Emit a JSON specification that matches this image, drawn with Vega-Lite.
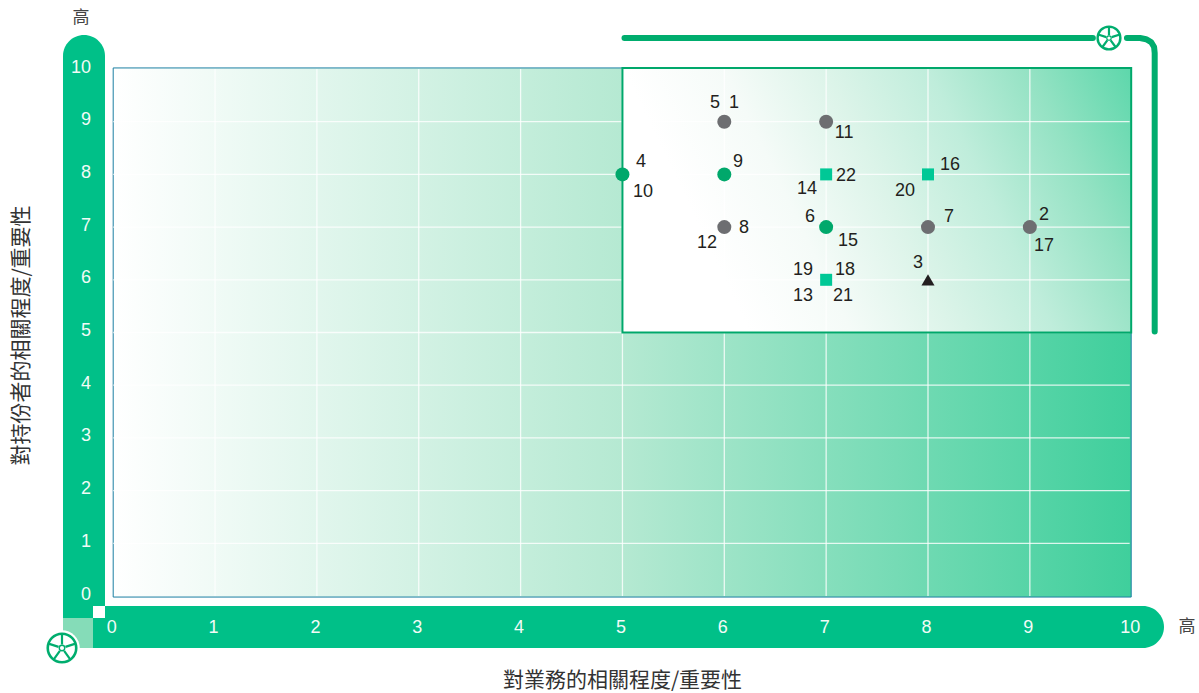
{
"$schema":"https://vega.github.io/schema/vega-lite/v6.json",
"width":1199,"height":693,"padding":0,"autosize":{"type":"none"},
"background":"white",
"view":{"stroke":null},
"config":{"text":{"font":"Liberation Sans"}},
"encoding":{
 "x":{"field":"x","type":"quantitative","scale":{"domain":[-1.1114,10.6608],"nice":false,"zero":false},
  "axis":{"values":[0,1,2,3,4,5,6,7,8,9,10],"format":"d","grid":false,"ticks":false,"tickSize":0,"domain":false,"labelPadding":-66,"labelBaseline":"middle","labelFont":"Liberation Sans","labelFontSize":18,"labelColor":"#f2fbf7","labelOffset":-2,"labelBound":false,"labelFlush":false,"labelOverlap":false,"zindex":1,
   "title":"對業務的相關程度/重要性","titleFont":"Noto Sans CJK TC","titleFontSize":21,"titleFontWeight":"normal","titleColor":"#333333","titleX":622,"titleY":-13,"titleBaseline":"middle","titleAlign":"center"}},
 "y":{"field":"y","type":"quantitative","scale":{"domain":[-1.8406,11.3093],"nice":false,"zero":false},
  "axis":{"values":[0,1,2,3,4,5,6,7,8,9,10],"format":"d","grid":false,"ticks":false,"tickSize":0,"domain":false,"labelPadding":-90.5,"labelAlign":"right","labelBaseline":"middle","labelFont":"Liberation Sans","labelFontSize":18,"labelColor":"#f2fbf7","labelOffset":-2,"labelBound":false,"labelFlush":false,"labelOverlap":false,"zindex":1,
   "title":"對持份者的相關程度/重要性","titleFont":"Noto Sans CJK TC","titleFontSize":21,"titleFontWeight":"normal","titleColor":"#333333","titleX":21,"titleY":335,"titleAngle":-90,"titleBaseline":"middle","titleAlign":"center"}}
},
"layer":[
 {"data":{"values":[{"x":-0.4929,"x2":-0.0805,"y":10.645,"y2":-0.4175}]},
  "mark":{"type":"rect","fill":"#00c088","cornerRadiusTopLeft":21,"cornerRadiusTopRight":21},
  "encoding":{"x2":{"field":"x2"},"y2":{"field":"y2"}}},
 {"data":{"values":[{"x":-0.1983,"x2":10.317,"y":-0.19,"y2":-0.987}]},
  "mark":{"type":"rect","fill":"#00c088","cornerRadiusTopRight":21,"cornerRadiusBottomRight":21},
  "encoding":{"x2":{"field":"x2"},"y2":{"field":"y2"}}},
 {"data":{"values":[{"x":-0.4929,"x2":-0.1983,"y":-0.4175,"y2":-0.987}]},
  "mark":{"type":"rect","fill":"#85dcb8"},
  "encoding":{"x2":{"field":"x2"},"y2":{"field":"y2"}}},
 {"data":{"values":[{"x":-0.1983,"x2":-0.0805,"y":-0.19,"y2":-0.4175}]},
  "mark":{"type":"rect","fill":"#ffffff"},
  "encoding":{"x2":{"field":"x2"},"y2":{"field":"y2"}}},
 {"data":{"values":[{"x":0,"x2":9.995,"y":10.02,"y2":-0.02}]},
  "mark":{"type":"rect","stroke":"#1b7fa3","strokeWidth":1,"fill":{"gradient":"linear","x1":0,"y1":0,"x2":1,"y2":0,"stops":[{"offset":0,"color":"#ffffff"},{"offset":0.5,"color":"#b5e9d2"},{"offset":1,"color":"#3fcf9c"}]}},
  "encoding":{"x2":{"field":"x2"},"y2":{"field":"y2"}}},
 {"data":{"values":[{"x":5,"x2":9.995,"y":10.02,"y2":5}]},
  "mark":{"type":"rect","fill":{"gradient":"linear","x1":0.059,"y1":0.235,"x2":1,"y2":0,"stops":[{"offset":0,"color":"#ffffff"},{"offset":0.2,"color":"#f5fbf8"},{"offset":0.4,"color":"#dcf4e9"},{"offset":0.6,"color":"#bfeddb"},{"offset":0.8,"color":"#93e2c3"},{"offset":1,"color":"#5dd7ab"}]}},
  "encoding":{"x2":{"field":"x2"},"y2":{"field":"y2"}}},
 {"data":{"values":[
   {"x":1,"x2":1,"y":0,"y2":10},{"x":2,"x2":2,"y":0,"y2":10},{"x":3,"x2":3,"y":0,"y2":10},{"x":4,"x2":4,"y":0,"y2":10},{"x":5,"x2":5,"y":0,"y2":10},{"x":6,"x2":6,"y":0,"y2":10},{"x":7,"x2":7,"y":0,"y2":10},{"x":8,"x2":8,"y":0,"y2":10},{"x":9,"x2":9,"y":0,"y2":10},
   {"x":0,"x2":9.98,"y":1,"y2":1},{"x":0,"x2":9.98,"y":2,"y2":2},{"x":0,"x2":9.98,"y":3,"y2":3},{"x":0,"x2":9.98,"y":4,"y2":4},{"x":0,"x2":9.98,"y":5,"y2":5},{"x":0,"x2":9.98,"y":6,"y2":6},{"x":0,"x2":9.98,"y":7,"y2":7},{"x":0,"x2":9.98,"y":8,"y2":8},{"x":0,"x2":9.98,"y":9,"y2":9}]},
  "mark":{"type":"rule","color":"#ffffff","strokeWidth":1.3,"opacity":0.8},
  "encoding":{"x2":{"field":"x2"},"y2":{"field":"y2"}}},
 {"data":{"values":[{"x":5,"x2":9.995,"y":10.02,"y2":5}]},
  "mark":{"type":"rect","fillOpacity":0,"stroke":"#00a86b","strokeWidth":2},
  "encoding":{"x2":{"field":"x2"},"y2":{"field":"y2"}}},
 {"data":{"values":[
   {"seg":"a","o":1,"x":5.02,"y":10.588},{"seg":"a","o":2,"x":9.6186,"y":10.588},
   {"seg":"b","o":1,"x":9.9532,"y":10.588},{"seg":"b","o":2,"x":10.0824,"y":10.588},{"seg":"b","o":3,"x":10.1413,"y":10.565},{"seg":"b","o":4,"x":10.1904,"y":10.512},{"seg":"b","o":5,"x":10.2199,"y":10.417},{"seg":"b","o":6,"x":10.2258,"y":10.304},{"seg":"b","o":7,"x":10.2258,"y":5.02}]},
  "mark":{"type":"line","color":"#00ad6e","strokeWidth":6,"strokeCap":"round","strokeJoin":"round"},
  "encoding":{"detail":{"field":"seg"},"order":{"field":"o"}}},
 {"data":{"values":[{"x":-0.5027,"y":-0.987}]},
  "mark":{"type":"point","shape":"circle","filled":true,"fill":"#ffffff","stroke":null,"size":1260,"opacity":1}},
 {"data":{"values":[{"x":-0.5027,"y":-0.987}]},
  "mark":{"type":"point","shape":"circle","filled":false,"stroke":"#00ad6e","strokeWidth":2.6,"size":812,"opacity":1}},
 {"data":{"values":[{"x":-0.5027,"y":-0.987}]},
  "mark":{"type":"point","shape":"M0,-1L0,-0.25M0.95,-0.31L0.24,-0.08M0.59,0.81L0.15,0.2M-0.59,0.81L-0.15,0.2M-0.95,-0.31L-0.24,-0.08","filled":false,"stroke":"#00ad6e","strokeWidth":2.2,"size":812,"opacity":1}},
 {"data":{"values":[{"x":-0.5027,"y":-0.987}]},
  "mark":{"type":"point","shape":"circle","filled":false,"stroke":"#00ad6e","strokeWidth":1.4,"size":30,"opacity":1}},
 {"data":{"values":[{"x":9.777,"y":10.588}]},
  "mark":{"type":"point","shape":"circle","filled":false,"stroke":"#00ad6e","strokeWidth":2.4,"size":520,"opacity":1}},
 {"data":{"values":[{"x":9.777,"y":10.588}]},
  "mark":{"type":"point","shape":"M0,-1L0,-0.25M0.95,-0.31L0.24,-0.08M0.59,0.81L0.15,0.2M-0.59,0.81L-0.15,0.2M-0.95,-0.31L-0.24,-0.08","filled":false,"stroke":"#00ad6e","strokeWidth":2.2,"size":520,"opacity":1}},
 {"data":{"values":[{"x":9.777,"y":10.588}]},
  "mark":{"type":"point","shape":"circle","filled":false,"stroke":"#00ad6e","strokeWidth":1.2,"size":20,"opacity":1}},
 {"data":{"values":[{"x":6,"y":9},{"x":7,"y":9},{"x":6,"y":7},{"x":8,"y":7},{"x":9,"y":7}]},
  "mark":{"type":"point","shape":"circle","filled":true,"fill":"#6d6e71","stroke":null,"size":196,"opacity":1}},
 {"data":{"values":[{"x":5,"y":8},{"x":6,"y":8},{"x":7,"y":7}]},
  "mark":{"type":"point","shape":"circle","filled":true,"fill":"#00a86b","stroke":null,"size":196,"opacity":1}},
 {"data":{"values":[{"x":7,"y":8},{"x":8,"y":8},{"x":7,"y":6}]},
  "mark":{"type":"point","shape":"square","filled":true,"fill":"#00c896","stroke":null,"size":144,"opacity":1}},
 {"data":{"values":[{"x":8,"y":6}]},
  "mark":{"type":"point","shape":"triangle-up","filled":true,"fill":"#231f20","stroke":null,"size":170,"opacity":1}},
 {"data":{"values":[
   {"t":"5","x":5.909,"y":9.374},{"t":"1","x":6.095,"y":9.374},{"t":"11","x":7.176,"y":8.805},
   {"t":"4","x":5.182,"y":8.254},{"t":"10","x":5.202,"y":7.685},{"t":"9","x":6.134,"y":8.254},
   {"t":"22","x":7.195,"y":7.989},{"t":"14","x":6.812,"y":7.742},{"t":"16","x":8.216,"y":8.197},
   {"t":"20","x":7.774,"y":7.704},{"t":"6","x":6.841,"y":7.211},{"t":"15","x":7.215,"y":6.755},
   {"t":"8","x":6.194,"y":7.002},{"t":"12","x":5.83,"y":6.717},{"t":"7","x":8.206,"y":7.211},
   {"t":"2","x":9.139,"y":7.249},{"t":"17","x":9.139,"y":6.66},{"t":"3","x":7.902,"y":6.338},
   {"t":"19","x":6.773,"y":6.205},{"t":"18","x":7.185,"y":6.205},{"t":"13","x":6.773,"y":5.712},{"t":"21","x":7.165,"y":5.712}]},
  "mark":{"type":"text","font":"Liberation Sans","fontSize":18,"fill":"#231f20","align":"center","baseline":"middle","dy":1},
  "encoding":{"text":{"field":"t"}}},
 {"data":{"values":[{"t":"高","x":-0.316,"y":10.968},{"t":"高","x":10.543,"y":-0.588}]},
  "mark":{"type":"text","font":"Noto Sans CJK TC","fontSize":17,"fill":"#444444","align":"center","baseline":"middle"},
  "encoding":{"text":{"field":"t"}}}
]
}
